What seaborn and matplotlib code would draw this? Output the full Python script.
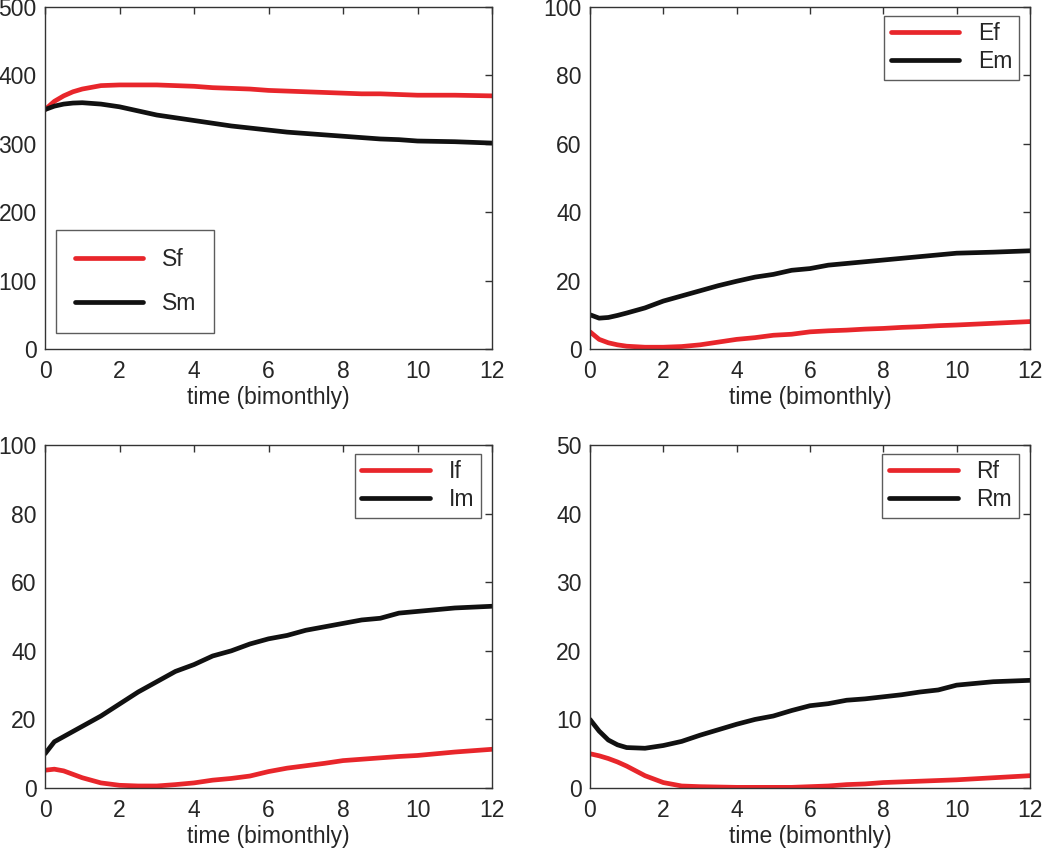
import numpy as np
import pandas as pd
import seaborn as sns
import matplotlib.pyplot as plt

# time grid (bimonthly) and values
t = [0, 0.25, 0.5, 0.75, 1, 1.5, 2, 2.5, 3, 3.5, 4, 4.5, 5, 5.5, 6, 6.5, 7, 7.5, 8, 8.5, 9, 9.5, 10, 11, 12]

Sf = [350, 362, 370, 376, 380, 385, 386, 386, 386, 385, 384, 382, 381, 380, 378, 377, 376, 375, 374, 373, 373, 372, 371, 371, 370]
Sm = [350, 355, 358, 359.5, 360, 358, 354, 348, 342, 338, 334, 330, 326, 323, 320, 317, 315, 313, 311, 309, 307, 306, 304, 303, 301]
Ef = [5, 2.8, 1.8, 1.2, 0.8, 0.5, 0.5, 0.7, 1.2, 2.0, 2.8, 3.3, 4.0, 4.3, 5.0, 5.3, 5.5, 5.8, 6.0, 6.3, 6.5, 6.8, 7.0, 7.5, 8.0]
Em = [10, 9.0, 9.2, 9.8, 10.5, 12.0, 14.0, 15.5, 17.0, 18.5, 19.8, 21.0, 21.8, 23.0, 23.5, 24.5, 25.0, 25.5, 26.0, 26.5, 27.0, 27.5, 28.0, 28.3, 28.7]
If = [5.2, 5.5, 5.0, 4.0, 3.0, 1.5, 0.8, 0.6, 0.6, 1.0, 1.5, 2.3, 2.8, 3.5, 4.8, 5.8, 6.5, 7.2, 8.0, 8.4, 8.8, 9.2, 9.5, 10.5, 11.3]
Im = [10, 13.5, 15, 16.5, 18, 21, 24.5, 28, 31, 34, 36, 38.5, 40, 42, 43.5, 44.5, 46, 47, 48, 49, 49.5, 51, 51.5, 52.5, 53]
Rf = [5, 4.7, 4.3, 3.8, 3.2, 1.8, 0.8, 0.3, 0.2, 0.15, 0.1, 0.1, 0.1, 0.1, 0.2, 0.3, 0.5, 0.6, 0.8, 0.9, 1.0, 1.1, 1.2, 1.5, 1.8]
Rm = [10, 8.3, 7.0, 6.3, 5.9, 5.8, 6.2, 6.8, 7.7, 8.5, 9.3, 10.0, 10.5, 11.3, 12.0, 12.3, 12.8, 13.0, 13.3, 13.6, 14.0, 14.3, 15.0, 15.5, 15.7]

panels = [
    ('Sf', Sf, 'Sm', Sm, 500, 100),
    ('Ef', Ef, 'Em', Em, 100, 20),
    ('If', If, 'Im', Im, 100, 20),
    ('Rf', Rf, 'Rm', Rm, 50, 10),
]

sns.set_style('white')
plt.rcParams['font.family'] = ['Liberation Sans', 'DejaVu Sans']
plt.rcParams['xtick.direction'] = 'in'
plt.rcParams['ytick.direction'] = 'in'

red = '#e8262b'
black = '#111111'
fs = 16.5

fig = plt.figure(figsize=(10.5, 8.49), dpi=100)
boxes = [
    [0.0429, 0.589, 0.4257, 0.4028],
    [0.5619, 0.589, 0.419, 0.4028],
    [0.0429, 0.0718, 0.4257, 0.404],
    [0.5619, 0.0718, 0.419, 0.404],
]

for i, (fname, fvals, mname, mvals, ymax, ystep) in enumerate(panels):
    ax = fig.add_axes(boxes[i])
    df = pd.DataFrame({
        't': t + t,
        'value': fvals + mvals,
        'series': [fname] * len(t) + [mname] * len(t),
    })
    sns.lineplot(data=df, x='t', y='value', hue='series',
                 palette=[red, black], linewidth=3.4, ax=ax)
    ax.set_xlim(0, 12)
    ax.set_ylim(0, ymax)
    ax.set_xticks(range(0, 13, 2))
    ax.set_yticks(np.arange(0, ymax + 1, ystep))
    ax.set_xlabel('time (bimonthly)', fontsize=fs, labelpad=2)
    ax.set_ylabel('')
    ax.tick_params(labelsize=fs, length=5, width=1, top=True, right=True,
                   color='#333333')
    ax.tick_params(axis='x', pad=8)
    ax.tick_params(axis='y', pad=6)
    for sp in ax.spines.values():
        sp.set_color('#333333')
        sp.set_linewidth(1)
    handles, labels = ax.get_legend_handles_labels()
    if i == 0:
        leg = ax.legend(handles, labels, loc='lower left', bbox_to_anchor=(0.025, 0.047),
                        borderaxespad=0, fontsize=fs, handlelength=3.0,
                        labelspacing=0.9, borderpad=0.8, fancybox=False)
    else:
        leg = ax.legend(handles, labels, loc='upper right', bbox_to_anchor=(0.975, 0.975),
                        borderaxespad=0, fontsize=fs, handlelength=3.0,
                        labelspacing=0.2, borderpad=0.3, fancybox=False)
    leg.get_frame().set_edgecolor('#333333')
    leg.get_frame().set_linewidth(1)
    for ln in leg.get_lines():
        ln.set_linewidth(3.4)

fig.savefig('out.png', dpi=100)
